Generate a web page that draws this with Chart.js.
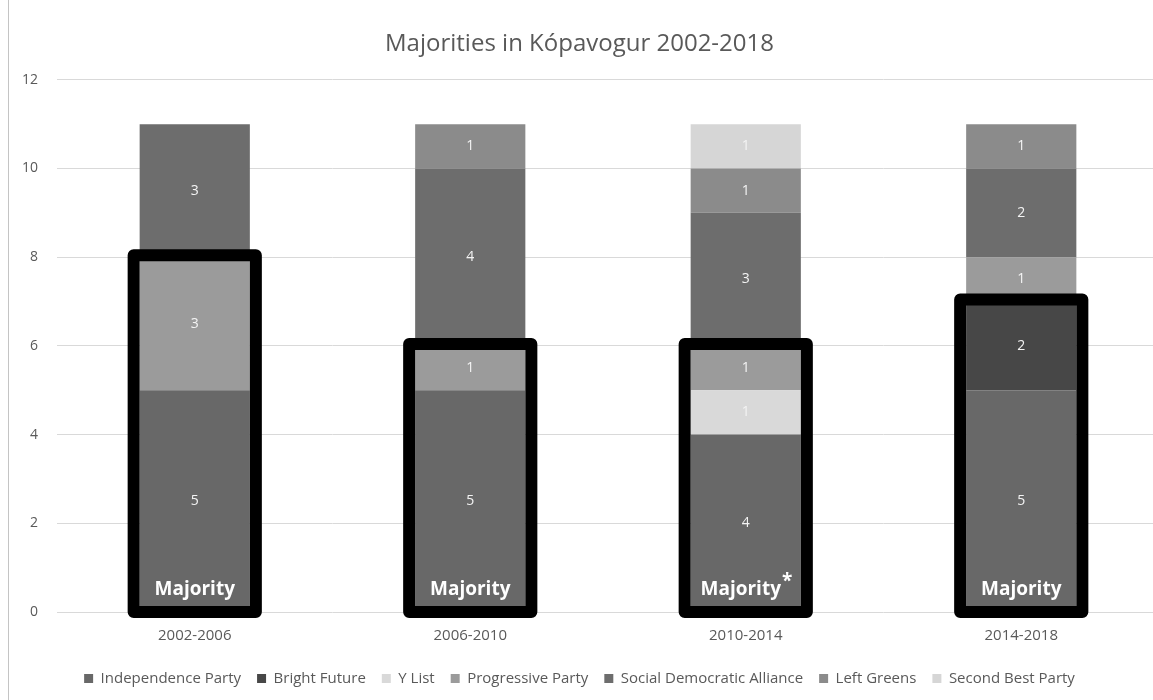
<!DOCTYPE html>
<html>
<head>
<meta charset="utf-8">
<title>Majorities in Kópavogur 2002-2018</title>
<script src="https://cdn.jsdelivr.net/npm/chart.js@4/dist/chart.umd.min.js"></script>
<style>
	html, body { margin: 0; padding: 0; background: #fff; overflow: hidden; }
	#wrap { position: relative; width: 1159px; height: 700px; }
	#edge { position: absolute; left: 8px; top: 0; width: 1px; height: 700px; background: #c4c4c4; }
</style>
</head>
<body>
<div id="wrap">
	<canvas id="majorities-chart"></canvas>
</div>
<div id="edge"></div>
<script>
	// Seats per party and term.
	const categories = ['2002-2006', '2006-2010', '2010-2014', '2014-2018'];
	const independence = [5, 5, 4, 5];
	const brightFuture = [0, 0, 0, 2];
	const yList = [0, 0, 1, 0];
	const progressive = [3, 1, 1, 1];
	const socialDemocratic = [3, 4, 3, 2];
	const leftGreens = [0, 1, 1, 1];
	const secondBest = [0, 0, 1, 0];

	// Seats held by the ruling majority, and the label under each box.
	const majoritySeats = [8, 6, 6, 7];
	const majorityLabels = ['Majority', 'Majority', 'Majority*', 'Majority'];
	const yTicks = [0, 2, 4, 6, 8, 10, 12];

	const FONT = "'Open Sans', 'Noto Sans', sans-serif";

	function party(label, data, color) {
		return {
			label: label,
			data: data,
			backgroundColor: color,
			barPercentage: 0.4,
			categoryPercentage: 1
		};
	}

	// Seat count in the middle of each segment.
	const segmentLabels = {
		id: 'segmentLabels',
		afterDatasetsDraw(chart) {
			const ctx = chart.ctx;
			ctx.save();
			ctx.font = '14px ' + FONT;
			ctx.fillStyle = '#f4f4f4';
			ctx.textAlign = 'center';
			ctx.textBaseline = 'middle';
			chart.data.datasets.forEach(function(ds, di) {
				const meta = chart.getDatasetMeta(di);
				meta.data.forEach(function(bar, i) {
					if (!ds.data[i]) {
						return;
					}
					ctx.fillText(String(ds.data[i]), bar.x, (bar.y + bar.base) / 2);
				});
			});
			ctx.restore();
		}
	};

	// Thick black box round the majority part of each bar.
	const majorityBoxes = {
		id: 'majorityBoxes',
		afterDatasetsDraw(chart) {
			const ctx = chart.ctx;
			const y = chart.scales.y;
			const bars = chart.getDatasetMeta(0).data;
			ctx.save();
			bars.forEach(function(bar, i) {
				const left = bar.x - bar.width / 2 - 6;
				const top = y.getPixelForValue(majoritySeats[i]) - 2;
				const base = y.getPixelForValue(0);
				ctx.lineWidth = 12;
				ctx.lineJoin = 'round';
				ctx.strokeStyle = '#000';
				ctx.strokeRect(left, top, bar.width + 12, base - top);

				let text = majorityLabels[i];
				const star = text.endsWith('*');
				if (star) {
					text = text.slice(0, -1);
				}
				ctx.font = 'bold 19px ' + FONT;
				ctx.fillStyle = '#fff';
				ctx.textBaseline = 'middle';
				const w = ctx.measureText(text).width;
				const starW = star ? 10 : 0;
				const tx = bar.x - (w + starW) / 2;
				ctx.textAlign = 'left';
				ctx.fillText(text, tx, base - 22);
				if (star) {
					ctx.fillText('*', tx + w + 1, base - 30);
				}
			});
			ctx.restore();
		}
	};

	new Chart(document.getElementById('majorities-chart'), {
		type: 'bar',
		data: {
			labels: categories,
			datasets: [
				party('Independence Party', independence, '#686868'),
				party('Bright Future', brightFuture, '#474747'),
				party('Y List', yList, '#d9d9d9'),
				party('Progressive Party', progressive, '#9b9b9b'),
				party('Social Democratic Alliance', socialDemocratic, '#6d6d6d'),
				party('Left Greens', leftGreens, '#8b8b8b'),
				party('Second Best Party', secondBest, '#d6d6d6')
			]
		},
		options: {
			responsive: true,
			maintainAspectRatio: false,
			animation: false,
			layout: {
				padding: { top: 18, right: 0, bottom: 4, left: 0 }
			},
			plugins: {
				title: {
					display: true,
					text: 'Majorities in Kópavogur 2002-2018',
					color: '#595959',
					font: { size: 24, weight: 'normal', family: FONT },
					padding: { top: 12, bottom: 21 }
				},
				legend: {
					display: true,
					position: 'bottom',
					labels: {
						boxWidth: 9,
						boxHeight: 9,
						padding: 16,
						color: '#595959',
						font: { size: 15, family: FONT }
					}
				},
				tooltip: { enabled: false }
			},
			scales: {
				x: {
					stacked: true,
					afterFit: function(scale) {
						scale.height = 43;
					},
					grid: { display: false },
					border: { display: false },
					ticks: {
						color: '#595959',
						padding: 7,
						font: { size: 15, family: FONT }
					}
				},
				y: {
					stacked: true,
					min: yTicks[0],
					max: yTicks[yTicks.length - 1],
					afterFit: function(scale) {
						scale.width = 57;
					},
					afterBuildTicks: function(scale) {
						scale.ticks = yTicks.map(function(v) { return { value: v }; });
					},
					grid: {
						color: '#d9d9d9',
						drawTicks: false
					},
					border: { display: false },
					ticks: {
						color: '#595959',
						padding: 19,
						font: { size: 14, family: FONT }
					}
				}
			}
		},
		plugins: [segmentLabels, majorityBoxes]
	});
</script>
</body>
</html>
